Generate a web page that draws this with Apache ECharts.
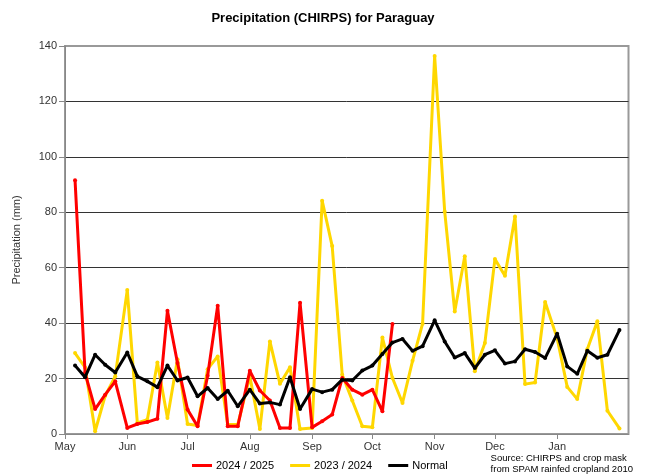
<!DOCTYPE html>
<html><head><meta charset="utf-8">
<script src="https://cdn.jsdelivr.net/npm/echarts@6/dist/echarts.min.js"></script>
<style>html,body{margin:0;padding:0;background:#fff}#c{width:646px;height:475px}</style>
</head><body><div id="c"></div>
<script>
var months = ['May','Jun','Jul','Aug','Sep','Oct','Nov','Dec','Jan'];
var monthDays = [31,30,31,31,30,31,30,31,31];
var yTicks = [0,20,40,60,80,100,120,140];

var season2425 = [91.6,22,9.0,14.2,19.0,2.2, 3.6,4.3,5.5,44.5,25.6,8.8, 2.8,21,46.3,2.8,2.8,22.8,
  15.7,12.1,2.2,2.2,47.4,2.4, 4.6,7.0,20.2,16.0,14.2,16.0, 8.2,39.7];
var season2324 = [29.2,24,1.0,13.8,20.8,52.0, 4.0,5.2,25.8,5.8,27.0,3.6, 3.1,23.4,28.0,3.4,3.4,20.8,
  1.8,33.4,18.1,24.1,1.8,2.2, 84.2,67.8,21.4,12.1,2.8,2.4, 34.8,20.2,11.2,26.4,39.8,136.4,
  80.3,44.2,64.1,22.6,32.8,63.1, 57.1,78.5,18.0,18.6,47.6,34.5, 17.0,12.6,30.6,40.7,8.4,2.0];
var normal = [24.7,20.5,28.6,25.0,22.2,29.4, 20.8,19.0,16.9,24.7,19.3,20.4, 13.6,16.6,12.6,15.6,10.0,16.0,
  11.0,11.4,10.6,20.5,9.0,16.2, 15.1,16.0,19.6,19.3,22.9,24.7, 28.9,33.0,34.3,30.0,31.7,41.0,
  33.4,27.6,29.2,23.8,28.6,30.2, 25.4,26.2,30.6,29.6,27.4,36.2, 24.4,21.7,30.0,27.5,28.6,37.5];

// day offsets from 1 May of each month start, and of each pentad end
var monthStart = [], acc = 0;
for (var i = 0; i < monthDays.length; i++) { monthStart.push(acc); acc += monthDays[i]; }
var pentadX = [];
for (var m = 0; m < months.length; m++) {
  [5,10,15,20,25,monthDays[m]].forEach(function(d){ pentadX.push(monthStart[m] + d); });
}
function pairs(vals){ return vals.map(function(v,i){ return [pentadX[i], v]; }); }

var chart = echarts.init(document.getElementById('c'), null, {renderer:'canvas'});
var font = 'Liberation Sans, Arial, sans-serif';
function lineSeries(name, color, vals, z){
  return {name:name, type:'line', data:pairs(vals), z:z,
    symbol:'circle', symbolSize:4, showSymbol:true,
    lineStyle:{color:color, width:3}, itemStyle:{color:color},
    emphasis:{disabled:true}, animation:false};
}
chart.setOption({
  animation:false,
  textStyle:{fontFamily:font},
  title:{text:'Precipitation (CHIRPS) for Paraguay', left:'center', top:7,
    textStyle:{fontSize:13, fontWeight:'bold', color:'#000', fontFamily:font}},
  grid:{left:65, right:17.5, top:46, bottom:41, show:true, borderColor:'#999', borderWidth:2, backgroundColor:'transparent'},
  xAxis:{type:'value', min:0, max:280.5,
    axisLine:{show:true, lineStyle:{color:'#888', width:1}},
    axisTick:{show:true, customValues:monthStart, length:5, lineStyle:{color:'#888'}},
    axisLabel:{customValues:monthStart, fontSize:11, color:'#333', margin:7,
      formatter:function(v){ var k = monthStart.indexOf(Math.round(v)); return k>=0 ? months[k] : ''; }},
    splitLine:{show:false}},
  yAxis:{type:'value', min:0, max:140, interval:20,
    name:'Precipitation (mm)', nameLocation:'middle', nameGap:43,
    nameTextStyle:{fontSize:11, color:'#333'},
    axisLine:{show:true, lineStyle:{color:'#888', width:1}},
    axisTick:{show:true, length:6, lineStyle:{color:'#888'}},
    axisLabel:{fontSize:11, color:'#333', margin:8,
      formatter:function(v){ return yTicks.indexOf(v)>=0 ? String(v) : ''; }},
    splitLine:{show:true, showMinLine:false, showMaxLine:false, lineStyle:{color:'#333', width:1}}},
  legend:{top:460, left:192, padding:0, itemWidth:20, itemHeight:3, itemGap:16, icon:'rect',
    textStyle:{fontSize:11, color:'#000', padding:[0,0,0,-1]},
    data:['2024 / 2025','2023 / 2024','Normal']},
  graphic:[{type:'text', right:13, top:453,
    style:{text:'Source: CHIRPS and crop mask\nfrom SPAM rainfed cropland 2010', align:'right',
      font:'9.5px Liberation Sans, Arial, sans-serif', fill:'#000', lineHeight:11}}],
  series:[
    lineSeries('2024 / 2025', '#ff0000', season2425, 3),
    lineSeries('2023 / 2024', '#ffd700', season2324, 2),
    lineSeries('Normal', '#000000', normal, 4)
  ]
});
</script></body></html>
